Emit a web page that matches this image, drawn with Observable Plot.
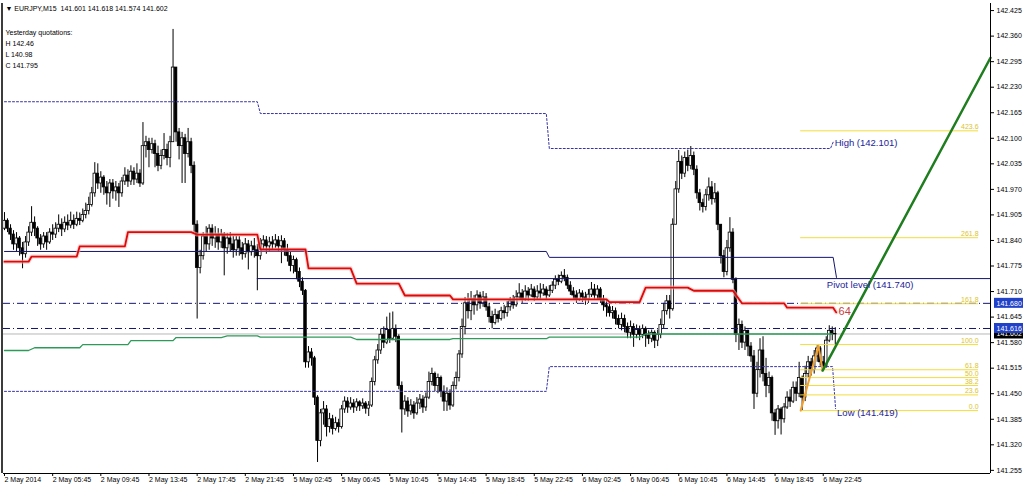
<!DOCTYPE html>
<html><head><meta charset="utf-8">
<script src="https://cdn.jsdelivr.net/npm/d3@7"></script>
<script src="https://cdn.jsdelivr.net/npm/@observablehq/plot@0.6"></script>
<style>html,body{margin:0;padding:0;background:#fff;}#chart{width:1024px;height:486px;overflow:hidden}</style>
</head><body><div id="chart"></div>
<script>
// ---- M15 candles (bar index 0 = 2 May 01:45) ----
const firstOpen = 141.870;
const closes = [
141.890,141.870,141.855,141.830,141.845,141.820,141.805,141.835,141.860,141.885,
141.870,141.845,141.830,141.850,141.835,141.860,141.855,141.870,141.880,141.868,
141.885,141.878,141.890,141.880,141.895,141.890,141.905,141.915,141.930,141.960,
142.010,141.985,142.000,141.975,141.960,141.985,141.965,141.975,141.960,141.990,
142.005,141.990,142.015,141.995,142.010,141.985,142.080,142.090,142.070,142.085,
142.060,142.030,142.055,142.070,142.050,142.090,142.280,142.115,142.080,142.100,
142.060,142.090,142.030,141.880,141.770,141.800,141.850,141.830,141.870,141.845,
141.855,141.835,141.855,141.820,141.845,141.830,141.815,141.840,141.820,141.805,
141.830,141.810,141.825,141.815,141.800,141.830,141.840,141.825,141.835,141.830,
141.840,141.825,141.838,141.815,141.800,141.775,141.790,141.760,141.735,141.712,
141.530,141.555,141.540,141.440,141.330,141.400,141.410,141.365,141.385,141.360,
141.375,141.365,141.410,141.430,141.415,141.425,141.415,141.428,141.418,141.425,
141.412,141.420,141.480,141.535,141.560,141.600,141.580,141.612,141.590,141.615,
141.595,141.470,141.410,141.430,141.405,141.420,141.400,141.425,141.435,141.415,
141.440,141.480,141.500,141.470,141.490,141.455,141.430,141.450,141.420,141.470,
141.490,141.550,141.620,141.680,141.660,141.690,141.675,141.700,141.680,141.695,
141.670,141.645,141.630,141.650,141.640,141.660,141.655,141.670,141.685,141.675,
141.695,141.705,141.690,141.710,141.700,141.715,141.695,141.710,141.705,141.715,
141.700,141.712,141.725,141.740,141.735,141.750,141.745,141.725,141.710,141.700,
141.690,141.705,141.695,141.690,141.702,141.715,141.700,141.715,141.690,141.675,
141.670,141.655,141.660,141.640,141.625,141.640,141.620,141.605,141.620,141.600,
141.612,141.600,141.615,141.598,141.590,141.605,141.585,141.600,141.625,141.660,
141.685,141.665,141.880,141.970,142.040,142.010,142.050,142.030,142.055,142.020,
141.960,141.935,141.925,141.955,141.975,141.945,141.960,141.880,141.800,141.760,
141.820,141.860,141.740,141.600,141.625,141.580,141.610,141.570,141.545,141.450,
141.510,141.560,141.500,141.470,141.490,141.400,141.380,141.410,141.385,141.415,
141.440,141.430,141.465,141.450,141.490,141.440,141.500,141.530,141.510,141.545,
141.565,141.530,141.520,141.585,141.610,141.601,141.602];
const highs = [
141.911,141.895,141.880,141.865,141.860,141.850,141.835,141.850,141.875,141.926,
141.900,141.875,141.855,141.860,141.860,141.870,141.880,141.885,141.905,141.895,
141.900,141.905,141.912,141.905,141.912,141.910,141.920,141.935,141.950,141.975,
142.038,142.035,142.015,142.005,141.990,141.995,141.995,141.990,141.985,142.000,
142.025,142.020,142.030,142.025,142.035,142.020,142.140,142.105,142.100,142.100,
142.095,142.080,142.070,142.112,142.085,142.105,142.377,142.280,142.125,142.115,
142.110,142.125,142.100,142.040,141.890,141.815,141.860,141.875,141.880,141.880,
141.875,141.870,141.868,141.860,141.858,141.860,141.850,141.850,141.850,141.835,
141.845,141.840,141.838,141.845,141.830,141.845,141.852,141.850,141.848,141.850,
141.855,141.850,141.852,141.845,141.830,141.810,141.800,141.795,141.770,141.745,
141.715,141.570,141.565,141.545,141.445,141.410,141.430,141.420,141.400,141.395,
141.390,141.385,141.420,141.442,141.440,141.440,141.435,141.437,141.432,141.437,
141.430,141.430,141.490,141.545,141.575,141.615,141.620,141.645,141.655,141.658,
141.625,141.600,141.480,141.445,141.440,141.435,141.430,141.440,141.448,141.445,
141.452,141.505,141.515,141.505,141.500,141.495,141.470,141.465,141.460,141.480,
141.505,141.560,141.640,141.695,141.705,141.710,141.700,141.712,141.708,141.710,
141.705,141.680,141.660,141.665,141.660,141.670,141.675,141.685,141.695,141.700,
141.712,141.730,141.715,141.725,141.720,141.728,141.722,141.725,141.730,141.728,
141.722,141.725,141.735,141.750,141.752,141.760,141.766,141.752,141.735,141.720,
141.712,141.715,141.712,141.708,141.715,141.733,141.728,141.725,141.720,141.700,
141.690,141.680,141.672,141.668,141.650,141.655,141.650,141.630,141.635,141.628,
141.625,141.622,141.625,141.620,141.610,141.612,141.610,141.612,141.640,141.680,
141.700,141.700,141.895,141.990,142.069,142.055,142.065,142.070,142.079,142.065,
142.030,141.970,141.945,141.970,141.999,141.990,141.985,141.965,141.880,141.815,
141.840,141.898,141.870,141.745,141.640,141.635,141.620,141.612,141.580,141.560,
141.530,141.590,141.595,141.540,141.505,141.495,141.410,141.420,141.415,141.425,
141.455,141.460,141.480,141.480,141.530,141.495,141.520,141.545,141.540,141.560,
141.572,141.570,141.545,141.595,141.623,141.620,141.618];
const lows = [
141.865,141.860,141.840,141.815,141.812,141.800,141.768,141.795,141.825,141.850,
141.850,141.825,141.815,141.820,141.815,141.830,141.840,141.845,141.860,141.850,
141.860,141.865,141.870,141.868,141.875,141.878,141.885,141.895,141.905,141.925,
141.950,141.970,141.960,141.955,141.930,141.924,141.945,141.940,141.924,141.950,
141.980,141.975,141.980,141.980,141.985,141.975,141.980,142.050,142.025,142.060,
142.025,142.015,142.020,142.045,142.030,142.025,142.090,142.090,142.045,141.985,
141.985,142.050,142.010,141.860,141.640,141.755,141.790,141.810,141.815,141.825,
141.820,141.815,141.820,141.750,141.805,141.810,141.795,141.800,141.800,141.790,
141.795,141.765,141.800,141.795,141.712,141.790,141.815,141.805,141.810,141.815,
141.820,141.810,141.781,141.800,141.785,141.760,141.755,141.740,141.720,141.700,
141.515,141.515,141.520,141.420,141.275,141.315,141.370,141.340,141.350,141.345,
141.355,141.350,141.360,141.400,141.400,141.408,141.400,141.405,141.405,141.410,
141.398,141.392,141.415,141.470,141.525,141.550,141.565,141.575,141.578,141.585,
141.580,141.460,141.350,141.395,141.390,141.395,141.385,141.395,141.410,141.400,
141.405,141.435,141.470,141.455,141.450,141.440,141.405,141.405,141.408,141.415,
141.460,141.480,141.540,141.600,141.640,141.636,141.650,141.660,141.665,141.670,
141.660,141.630,141.615,141.625,141.630,141.635,141.640,141.645,141.660,141.665,
141.670,141.690,141.680,141.685,141.685,141.695,141.685,141.690,141.690,141.698,
141.690,141.695,141.705,141.715,141.725,141.730,141.735,141.715,141.700,141.690,
141.680,141.685,141.682,141.675,141.680,141.695,141.690,141.690,141.680,141.660,
141.645,141.645,141.640,141.625,141.615,141.610,141.605,141.590,141.590,141.568,
141.590,141.585,141.590,141.568,141.575,141.580,141.565,141.570,141.590,141.615,
141.650,141.640,141.660,141.880,141.960,141.995,142.000,142.015,142.020,142.005,
141.945,141.915,141.910,141.915,141.940,141.930,141.935,141.865,141.780,141.745,
141.750,141.810,141.730,141.580,141.560,141.565,141.560,141.545,141.530,141.410,
141.440,141.490,141.480,141.440,141.450,141.380,141.344,141.360,141.345,141.375,
141.410,141.415,141.425,141.430,141.440,141.407,141.430,141.490,141.495,141.500,
141.530,141.520,141.509,141.515,141.580,141.585,141.574];

// ---- axes ----
const xTickBars = [0,16,32,48,64,80,96,112,128,144,160,176,192,208,224,240,256,272];
const xLabels = ["2 May 2014","2 May 05:45","2 May 09:45","2 May 13:45","2 May 17:45","2 May 21:45",
  "5 May 02:45","5 May 06:45","5 May 10:45","5 May 14:45","5 May 18:45","5 May 22:45",
  "6 May 02:45","6 May 06:45","6 May 10:45","6 May 14:45","6 May 18:45","6 May 22:45"];
const yTicks = [142.425,142.360,142.295,142.230,142.165,142.100,142.035,141.970,141.905,141.840,
  141.775,141.710,141.645,141.580,141.515,141.450,141.385,141.320,141.255];
const xMin = -0.332, xMax = 327.57, yMin = 141.247, yMax = 142.443;

// ---- indicator lines: [fromBar, toBar, price] ----
const redSteps = [[0,8,141.786],[9,24,141.799],[25,40,141.825],[41,62,141.861],[64,84,141.855],
  [85,100,141.817],[101,115,141.769],[117,131,141.730],[133,148,141.700],[149,200,141.690],
  [201,211,141.683],[213,227,141.720],[229,242,141.712],[245,259,141.680],[260,275.3,141.669]];
const redTail = [[276.3,141.657]];
const greenSteps = [[0,8,141.560],[10,25,141.567],[26,41,141.575],[42,56,141.585],[57,72,141.593],
  [74,84,141.597],[85,115,141.594],[117,148,141.588],[149,180,141.590],[181,211,141.594],[213,275,141.602]];
const dotUpperSteps = [[0,84,142.193],[85,180,142.163],[181,274.4,142.074]];
const dotUpperTail = [[275.4,142.092]];
const dotLowerSteps = [[0,180,141.456],[181,275.1,141.519]];
const dotLowerTail = [[276.1,141.412]];
const navySteps = [[0,180,141.812],[181,275.3,141.797]];
const navyTail = [[276.4,141.746]];
const pivotPrice = 141.743, pivotFromBar = 84;
const dashDotLevels = [141.680, 141.616];
const bidPrice = 141.602;

// ---- fibonacci ----
const fibLabels = ["0.0","23.6","38.2","50.0","61.8","100.0","161.8","261.8","423.6"];
const fibPrices = [141.407,141.447,141.471,141.491,141.511,141.575,141.679,141.847,142.119];
const fibFromBar = 264.5, fibToBar = 323.6;
const zigzag = [[264.5,141.407],[270.4,141.572],[271.8,141.509]];
const trendLine = [[271.8,141.509],[327.57,142.305]];

// ---- texts ----
const header = "\u25BC EURJPY,M15  141.601 141.618 141.574 141.602";
const quotations = ["Yesterday quotations:","H 142.46","L 140.98","C 141.795"];
const annotations = [
  {bar:275.8, p:142.087, text:"High (142.101)", color:"#24249a", size:9.5},
  {bar:276.6, p:141.400, text:"Low (141.419)", color:"#24249a", size:9.5},
  {bar:273.2, p:141.727, text:"Pivot level (141.740)", color:"#24249a", size:9.5},
  {bar:277.1, p:141.659, text:"64", color:"#c8403c", size:11}
];
const axisBadges = [{p:141.602, bg:"#000"},{p:141.680, bg:"#2041c8"},{p:141.616, bg:"#2041c8"}];

// ---- build ----
const bars = closes.map((c,i)=>({i, o: i ? closes[i-1] : firstOpen, h: highs[i], l: lows[i], c}));
const pts = (segs, tail=[]) => [...segs.flatMap(([a,b,p])=>[{i:a,p},{i:b,p}]), ...tail.map(([i,p])=>({i,p}))];
const pairs = arr => arr.map(([i,p])=>({i,p}));
const fib = fibPrices.map((p,k)=>({p, label: fibLabels[k]}));

const marks = [
  Plot.ruleY([bidPrice], {stroke:"#b8b8b8", strokeWidth:1}),
  // candles
  Plot.ruleX(bars, {x:"i", y1:d=>Math.min(d.l,d.o,d.c), y2:d=>Math.max(d.h,d.o,d.c), stroke:"#000", strokeWidth:1}),
  Plot.rect(bars, {x1:d=>d.i-0.42, x2:d=>d.i+0.42, y1:"o", y2:"c", fill:d=>d.c>=d.o?"#fff":"#000", stroke:"#000", strokeWidth:0.8}),
  // objects / indicators
  Plot.ruleY(dashDotLevels, {stroke:"#14146e", strokeWidth:1, strokeDasharray:"7,3,1,3"}),
  Plot.ruleY([pivotPrice], {x1:pivotFromBar, x2:xMax, stroke:"#14146e", strokeWidth:1}),
  Plot.line(pts(navySteps, navyTail), {x:"i", y:"p", stroke:"#14146e", strokeWidth:1}),
  Plot.line(pts(dotUpperSteps, dotUpperTail), {x:"i", y:"p", stroke:"#3434a8", strokeWidth:1, strokeDasharray:"2,2"}),
  Plot.line(pts(dotLowerSteps, dotLowerTail), {x:"i", y:"p", stroke:"#3434a8", strokeWidth:1, strokeDasharray:"2,2"}),
  Plot.line(pts(greenSteps), {x:"i", y:"p", stroke:"#2e9a5a", strokeWidth:1.3}),
  Plot.line(pts(redSteps, redTail), {x:"i", y:"p", stroke:"#ffb4b4", strokeWidth:4, strokeOpacity:0.6}),
  Plot.line(pts(redSteps, redTail), {x:"i", y:"p", stroke:"#dd0a0a", strokeWidth:1.8}),
  // fibonacci
  Plot.ruleY(fib, {y:"p", x1:fibFromBar, x2:fibToBar, stroke:"#f2dc3c", strokeWidth:1}),
  Plot.text(fib, {x:fibToBar, y:"p", text:"label", textAnchor:"end", dy:-4, fill:"#dcc32c", fontSize:7}),
  Plot.line(pairs(zigzag), {x:"i", y:"p", stroke:"#f0a030", strokeWidth:2}),
  Plot.line(pairs(trendLine), {x:"i", y:"p", stroke:"#1e7d1e", strokeWidth:2.5}),
  // annotations
  ...annotations.map(a => Plot.text([a], {x:"bar", y:"p", text:"text", textAnchor:"start", fill:a.color, fontSize:a.size})),
  // frame
  Plot.ruleX([xMax], {stroke:"#000", strokeWidth:1}),
  Plot.ruleY([yMin], {stroke:"#000", strokeWidth:1}),
  Plot.ruleX([xMin], {stroke:"#3c3c3c", strokeWidth:2, dx:-1.5}),
  // axes
  Plot.axisY(yTicks, {anchor:"right", tickSize:3, tickPadding:3, tickFormat:d=>d.toFixed(3), fontSize:7}),
  Plot.axisX(xTickBars, {anchor:"bottom", tickSize:3, tickPadding:1, tickFormat:d=>xLabels[xTickBars.indexOf(d)], textAnchor:"start", fontSize:7}),
  ...axisBadges.flatMap(b => [
    Plot.rect([b], {x1:()=>xMax, x2:()=>xMax, y1:"p", y2:"p", fill:b.bg, dx:4, insetRight:-29, insetTop:-5, insetBottom:-5}),
    Plot.text([b], {x:()=>xMax, y:"p", text:d=>d.p.toFixed(3), dx:6, textAnchor:"start", fill:"#fff", fontSize:7})
  ]),
  // header texts
  Plot.text([header], {frameAnchor:"top-left", text:d=>d, dx:2, dy:2.5, textAnchor:"start", lineAnchor:"top", fill:"#000", fontSize:7}),
  Plot.text([quotations.join("\n")], {frameAnchor:"top-left", text:d=>d, dx:2, dy:23.5, textAnchor:"start", lineAnchor:"top", lineHeight:1.57, fill:"#000", fontSize:7})
];

const chart = Plot.plot({
  width:1024, height:486,
  marginLeft:3, marginRight:34, marginTop:3, marginBottom:13,
  x:{domain:[xMin,xMax], axis:null},
  y:{domain:[yMin,yMax], axis:null},
  style:{fontFamily:"'Liberation Sans', Arial, sans-serif", fontSize:"7px", background:"#fff", color:"#000", overflow:"visible"},
  marks
});
document.getElementById("chart").appendChild(chart);
</script>
</body></html>
